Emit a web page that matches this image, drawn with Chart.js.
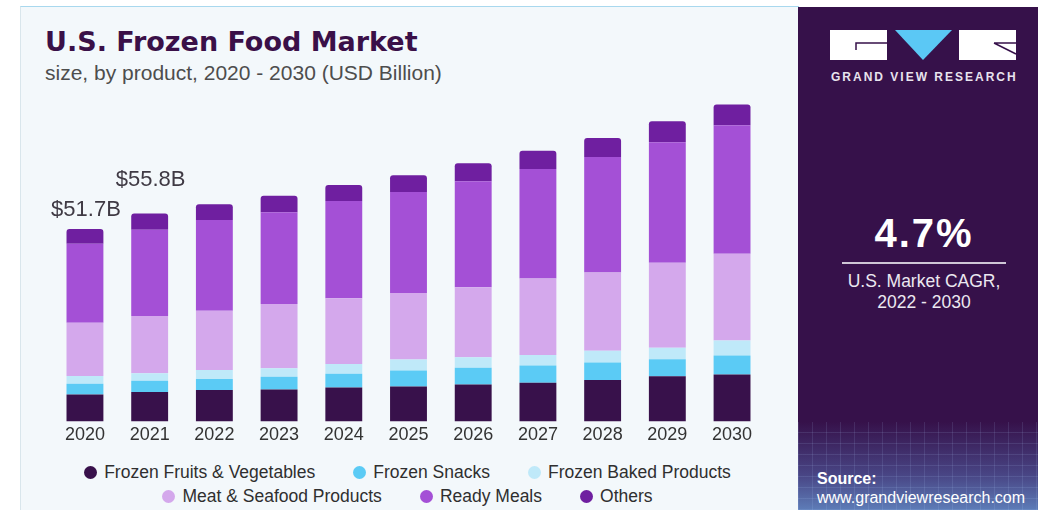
<!DOCTYPE html>
<html>
<head>
<meta charset="utf-8">
<script src="https://cdn.jsdelivr.net/npm/chart.js@4.4.1/dist/chart.umd.min.js"></script>
<style>
  html, body { margin: 0; padding: 0; background: #ffffff; }
  body { width: 1043px; height: 510px; position: relative; overflow: hidden; font-family: "Liberation Sans", Arial, sans-serif; }
  #panel { position: absolute; left: 20px; top: 6px; width: 778px; height: 504px; background: #f3f8fb; border-top: 1px solid #a8d8ee; border-left: 1px solid #d9e6ec; }
  #side { position: absolute; left: 798px; top: 7px; width: 240px; height: 503px; background: #36114a; overflow: hidden; }
  #sideGlow { position: absolute; left: 0; top: 415px; width: 240px; height: 88px;
    background:
      repeating-linear-gradient(90deg, rgba(180,210,255,0.12) 0 1px, transparent 1px 14px),
      repeating-linear-gradient(0deg, rgba(180,210,255,0.12) 0 1px, transparent 1px 11px),
      linear-gradient(180deg, rgba(54,17,74,0) 0%, rgba(90,120,190,0.5) 60%, rgba(110,170,230,0.7) 100%); }
  #title { position: absolute; left: 45px; top: 26px; font-family: "DejaVu Sans", sans-serif; font-weight: bold; font-size: 27px; color: #3a1048; letter-spacing: 0px; }
  #subtitle { position: absolute; left: 45px; top: 61px; font-size: 21px; color: #4d4d4d; }
  #chartBox { position: absolute; left: 40px; top: 90px; width: 740px; height: 359px; }
  #legend { position: absolute; left: 40px; top: 460px; width: 735px; display: flex; flex-wrap: wrap; justify-content: center; column-gap: 38px; row-gap: 0; }
  .item { display: flex; align-items: center; height: 24px; font-size: 17.5px; color: #2f2f2f; white-space: nowrap; }
  .dot { width: 13px; height: 13px; border-radius: 50%; margin-right: 7px; }
  #logo { position: absolute; left: 32px; top: 23px; }
  #gvr { position: absolute; left: 33px; top: 63px; font-size: 12px; font-weight: bold; color: #e8e4ee; letter-spacing: 2px; }
  #cagr { position: absolute; left: 0; top: 204px; width: 252px; text-align: center; font-size: 40px; font-weight: bold; color: #ffffff; letter-spacing: 2px; }
  #rule { position: absolute; left: 44px; top: 255px; width: 164px; height: 2px; background: #cfc6d6; }
  #cagrText { position: absolute; left: 0; top: 264px; width: 252px; text-align: center; font-size: 17.5px; line-height: 21px; color: #ece8f0; }
  #src { position: absolute; left: 19px; top: 462px; font-size: 16px; line-height: 19px; color: #ffffff; }
</style>
</head>
<body>
<div id="panel"></div>
<div id="title">U.S. Frozen Food Market</div>
<div id="subtitle">size, by product, 2020 - 2030 (USD Billion)</div>
<div id="chartBox"><canvas id="chart"></canvas></div>
<div id="legend"></div>

<div id="side">
  <div id="sideGlow"></div>
  <svg id="logo" width="190" height="32" viewBox="0 0 190 32">
    <rect x="0" y="0" width="57" height="30" fill="#ffffff"/>
    <path d="M26 20 V13 H57" stroke="#36114a" stroke-width="1.5" fill="none"/>
    <polygon points="65,0 122,0 93,30" fill="#5bc8f5"/>
    <rect x="129" y="0" width="57" height="30" fill="#ffffff"/>
    <path d="M164 13 H186 M164 13 L186 24" stroke="#36114a" stroke-width="1.5" fill="none"/>
  </svg>
  <div id="gvr">GRAND VIEW RESEARCH</div>
  <div id="cagr">4.7%</div>
  <div id="rule"></div>
  <div id="cagrText">U.S. Market CAGR,<br>2022 - 2030</div>
  <div id="src"><b>Source:</b><br>www.grandviewresearch.com</div>
</div>

<script>
// years on the x axis
const years = ['2020', '2021', '2022', '2023', '2024', '2025', '2026', '2027', '2028', '2029', '2030'];

// segment values, USD billion
const fruitsVeg = [7.2, 7.9, 8.4, 8.6, 9.1, 9.4, 9.9, 10.4, 11.1, 12.1, 12.6];
const snacks    = [2.9, 3.0, 3.0, 3.4, 3.7, 4.3, 4.5, 4.6, 4.7, 4.6, 5.1];
const baked     = [2.1, 2.0, 2.4, 2.3, 2.6, 2.9, 2.8, 2.8, 3.2, 3.1, 4.0];
const meatSea   = [14.3, 15.4, 15.9, 17.2, 17.7, 17.9, 18.8, 20.6, 21.0, 22.8, 23.3];
const readyMeals= [21.2, 23.2, 24.4, 24.7, 26.1, 27.1, 28.5, 29.4, 31.0, 32.4, 34.5];
const others    = [4.0, 4.3, 4.2, 4.4, 4.3, 4.5, 4.8, 4.9, 5.1, 5.6, 5.6];

const totalLabels = ['$51.7B', '$55.8B'];

const seriesNames = ['Frozen Fruits & Vegetables', 'Frozen Snacks', 'Frozen Baked Products',
                     'Meat & Seafood Products', 'Ready Meals', 'Others'];
const seriesColors = ['#38114b', '#5bcbf5', '#bfe9f9', '#d4a8ec', '#a450d6', '#6f1fa0'];
const seriesData = [fruitsVeg, snacks, baked, meatSea, readyMeals, others];

const datasets = seriesData.map(function (d, i) {
    return {
        label: seriesNames[i],
        data: d,
        backgroundColor: seriesColors[i],
        borderWidth: 0,
        borderRadius: i === 5 ? { topLeft: 3, topRight: 3 } : 0,
        borderSkipped: false,
        barPercentage: 0.57,
        categoryPercentage: 1.0
    };
});

// draws the $ totals above the first two bars
const totalsPlugin = {
    id: 'totals',
    afterDatasetsDraw: function (chart) {
        const ctx = chart.ctx;
        const top = chart.getDatasetMeta(5).data;
        const gaps = [13, 28];
        ctx.save();
        ctx.font = '22px "Liberation Sans", Arial, sans-serif';
        ctx.fillStyle = '#3f3a44';
        ctx.textAlign = 'center';
        ctx.textBaseline = 'alphabetic';
        totalLabels.forEach(function (t, i) {
            ctx.fillText(t, top[i].x + 1, top[i].y - gaps[i]);
        });
        ctx.restore();
    }
};

new Chart(document.getElementById('chart').getContext('2d'), {
    type: 'bar',
    data: { labels: years, datasets: datasets },
    options: {
        responsive: true,
        maintainAspectRatio: false,
        animation: false,
        layout: { padding: { left: 12.6, right: 15.6, top: 0, bottom: 0 } },
        plugins: { legend: { display: false }, tooltip: { enabled: false } },
        scales: {
            x: {
                stacked: true,
                grid: { display: false, drawTicks: false },
                border: { display: false },
                ticks: { padding: 3, color: '#333333', font: { size: 18, family: '"Liberation Sans", Arial, sans-serif' } }
            },
            y: {
                stacked: true,
                display: false,
                min: 0,
                max: 89
            }
        }
    },
    plugins: [totalsPlugin]
});

// html legend, two rows like the original
const legend = document.getElementById('legend');
seriesNames.forEach(function (name, i) {
    const item = document.createElement('div');
    item.className = 'item';
    item.innerHTML = '<span class="dot" style="background:' + seriesColors[i] + '"></span>' + name;
    legend.appendChild(item);
});
</script>
</body>
</html>
